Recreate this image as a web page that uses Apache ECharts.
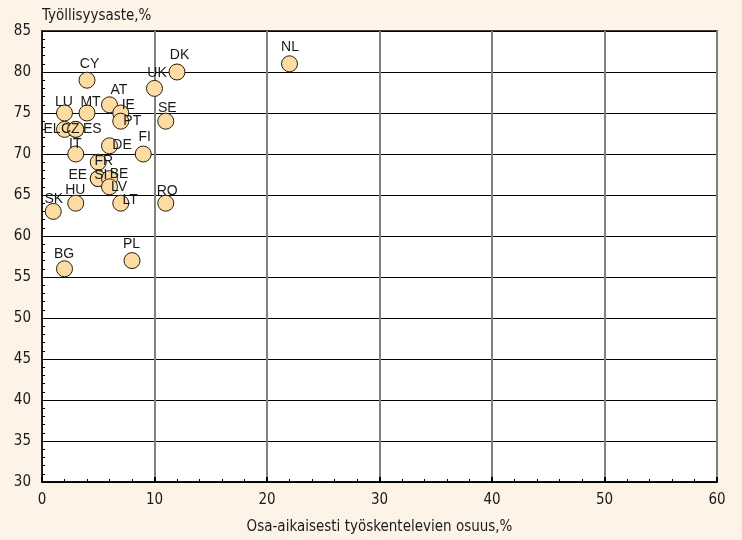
<!DOCTYPE html>
<html><head><meta charset="utf-8">
<script src="https://cdn.jsdelivr.net/npm/echarts@6/dist/echarts.min.js"></script>
<style>html,body{margin:0;padding:0;background:#fdf4e7;}#c{width:742px;height:540px;}</style>
</head><body><div id="c"></div>
<script>
const countries = ['NL','DK','UK','CY','AT','IE','PT','SE','LU','MT','EL','CZ','ES','IT','DE','FI','FR','EE','SI','BE','LV','HU','LT','RO','SK','BG','PL'];
const partTime  = [22,12,10,4,6,7,7,11,2,4,2,3,3,3,6,9,5,5,5,6,6,3,7,11,1,2,8];
const employment= [81,80,78,79,76,75,74,74,75,75,73,73,73,70,71,70,69,67,67,67,66,64,64,64,63,56,57];
const xTicks = [0,10,20,30,40,50,60];
const yTicks = [30,35,40,45,50,55,60,65,70,75,80,85];

const labelOffsets = {NL:[1,-16],DK:[3,-16],UK:[3,-15],CY:[3,-16],AT:[10,-14],IE:[8,-7],PT:[12,0],SE:[2,-13],
 LU:[0,-10],MT:[4,-10],EL:[-12,0],CZ:[-5,0],ES:[17,0],IT:[0,-9],DE:[13,0],FI:[2,-16],FR:[6,-1],EE:[-20,-3],
 SI:[3,-3],BE:[10,-4],LV:[10,1],HU:[0,-13],LT:[10,-3],RO:[2,-12],SK:[1,-12],BG:[0,-14],PL:[0,-16]};
const SYM = 16;

const data = countries.map((c,i)=>{
  const o = labelOffsets[c]||[0,-14];
  return {name:c,value:[partTime[i],employment[i]],
    label:{position:[SYM/2+o[0],SYM/2+o[1]],align:'center',verticalAlign:'middle'}};
});

const chart = echarts.init(document.getElementById('c'));
const axisFont = {fontFamily:'"Liberation Sans Narrow","DejaVu Sans Condensed",sans-serif',fontSize:15,color:'#1a1a1a'};
chart.setOption({
  backgroundColor:'#fdf4e7',
  animation:false,
  grid:{left:42,right:25,top:31,bottom:58,show:true,backgroundColor:'#ffffff',borderColor:'#000',borderWidth:1.5},
  xAxis:{type:'value',min:xTicks[0],max:xTicks[xTicks.length-1],interval:10,
    name:'Osa-aikaisesti työskentelevien osuus,%',nameLocation:'middle',nameGap:38,
    nameTextStyle:axisFont,
    axisLine:{lineStyle:{color:'#000',width:1.5}},
    axisTick:{inside:true,length:5,lineStyle:{color:'#000',width:2}},
    minorTick:{show:true,splitNumber:5,length:3,lineStyle:{color:'#000'}},
    axisLabel:Object.assign({margin:11},axisFont),
    splitLine:{show:true,lineStyle:{color:'#808080',width:2}}},
  yAxis:{type:'value',min:yTicks[0],max:yTicks[yTicks.length-1],interval:5,
    name:'Työllisyysaste,%',nameLocation:'end',nameGap:7,
    nameTextStyle:Object.assign({align:'left',verticalAlign:'bottom'},axisFont),
    axisLine:{lineStyle:{color:'#000',width:1.5}},
    axisTick:{inside:true,length:4,lineStyle:{color:'#000'}},
    minorTick:{show:true,splitNumber:5,length:3,lineStyle:{color:'#000'}},
    axisLabel:Object.assign({margin:11},axisFont),
    splitLine:{show:true,lineStyle:{color:'#000',width:1}}},
  series:[{type:'scatter',symbolSize:SYM,data:data,
    itemStyle:{color:'#fddca3',borderColor:'#2a1e0a',borderWidth:1,opacity:1},
    label:{show:true,formatter:'{b}',fontFamily:'"Liberation Sans",Arial,sans-serif',fontSize:14,color:'#1a1a1a'},
    labelLayout:{hideOverlap:false}}]
});
</script></body></html>
